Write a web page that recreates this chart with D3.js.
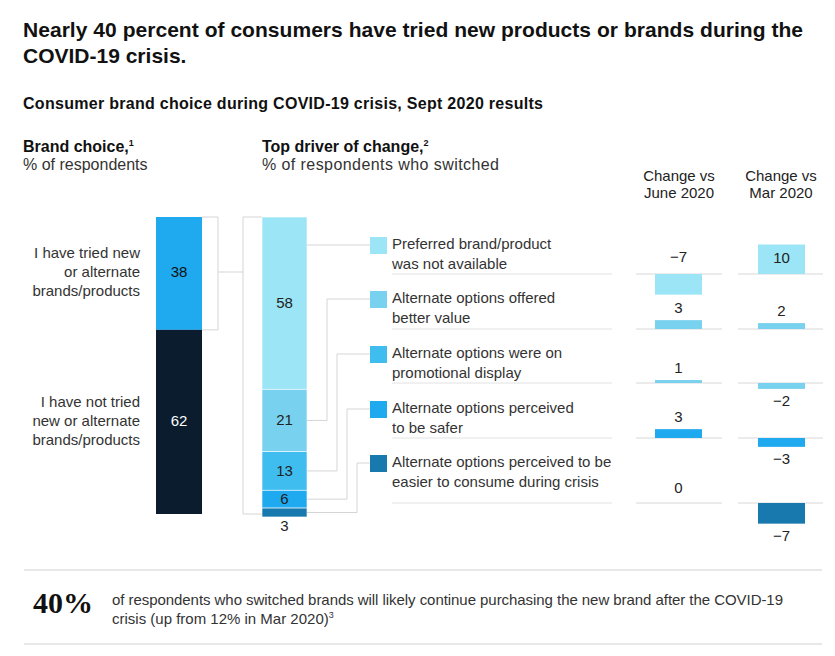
<!DOCTYPE html>
<html><head><meta charset="utf-8">
<script src="https://cdn.jsdelivr.net/npm/d3@7"></script>
<style>body{margin:0;background:#fff}svg{font-family:"Liberation Sans",Arial,sans-serif}</style>
</head><body><svg id="c" width="835" height="656"></svg>
<script>
const choiceLabels = [["I have tried new","or alternate","brands/products"],["I have not tried","new or alternate","brands/products"]];
const choiceValues = [38, 62];
const choiceColors = ["#1fa9ef", "#0a1c2d"];
const driverLabels = [["Preferred brand/product","was not available"],["Alternate options offered","better value"],["Alternate options were on","promotional display"],["Alternate options perceived","to be safer"],["Alternate options perceived to be","easier to consume during crisis"]];
const driverValues = [58, 21, 13, 6, 3];
const driverColors = ["#9ce5f6", "#78d1ee", "#40bdef", "#1fa9ef", "#1779ad"];
const changeJune = [-7, 3, 1, 3, 0];
const changeMar = [10, 2, -2, -3, -7];
const changeJuneColors = ["#9ce5f6", "#78d1ee", "#78d1ee", "#1fa9ef", "#1779ad"];
const changeMarColors = ["#9ce5f6", "#78d1ee", "#78d1ee", "#1fa9ef", "#1779ad"];

const svg = d3.select("#c");
const txt = (x,y,s,o={}) => svg.append("text").attr("x",x).attr("y",y).text(s)
  .attr("font-size",o.size||14).attr("fill",o.fill||"#222").attr("font-weight",o.weight||"normal")
  .attr("text-anchor",o.anchor||"start").attr("dominant-baseline",o.base||"auto");
const line = (x1,y1,x2,y2,c="#d5d5d5") => svg.append("line").attr("x1",x1).attr("y1",y1).attr("x2",x2).attr("y2",y2).attr("stroke",c).attr("stroke-width",1);

txt(23,37,"Nearly 40 percent of consumers have tried new products or brands during the",{size:21,weight:"bold",fill:"#111"}).attr("textLength",780);
txt(23,63,"COVID-19 crisis.",{size:21,weight:"bold",fill:"#111"});
txt(23,109,"Consumer brand choice during COVID-19 crisis, Sept 2020 results",{size:16,weight:"bold",fill:"#111"}).attr("textLength",520);
const h1 = txt(23,152,"Brand choice,",{size:16,weight:"bold",fill:"#111"});
h1.append("tspan").text("1").attr("font-size",9).attr("dy",-6);
txt(23,170,"% of respondents",{size:16,fill:"#333"});
const h2 = txt(262,152,"Top driver of change,",{size:16,weight:"bold",fill:"#111"});
h2.append("tspan").text("2").attr("font-size",9).attr("dy",-6);
txt(262,170,"% of respondents who switched",{size:16,fill:"#333"}).attr("textLength",237);
txt(679,181,"Change vs",{size:15,anchor:"middle"});
txt(679,198,"June 2020",{size:15,anchor:"middle"});
txt(781,181,"Change vs",{size:15,anchor:"middle"});
txt(781,198,"Mar 2020",{size:15,anchor:"middle"});

const y = d3.scaleLinear().domain([0,100]).range([217,514]);
let acc=0;
choiceValues.forEach((v,i)=>{
  const y0=y(acc), y1=y(acc+v); acc+=v;
  svg.append("rect").attr("x",156).attr("y",y0).attr("width",46).attr("height",y1-y0).attr("fill",choiceColors[i]);
  txt(179,(y0+y1)/2,v,{size:15,anchor:"middle",base:"middle",fill:i?"#fff":"#111"});
  const mid=(y0+y1)/2;
  choiceLabels[i].forEach((l,j)=>txt(140,mid+(j-1)*19,l,{size:15,anchor:"end",base:"middle",fill:"#333"}));
});
line(202,y(0),218,y(0)); line(218,y(0),218,y(38)); line(202,y(38),218,y(38));
line(218,272,243,272);
line(243,y(0),243,y(100)); line(243,y(0),262,y(0)); line(243,y(100),262,y(100));

const rowY=[245,299,354,409,463];
const baseY=[274,329,383,438,503];
const elbowX=[null,327,337,347,357];
acc=0;
driverValues.forEach((v,i)=>{
  const y0=y(acc), y1=y(acc+v); acc+=v;
  svg.append("rect").attr("x",262).attr("y",y0).attr("width",45).attr("height",y1-y0).attr("fill",driverColors[i]).attr("stroke","#fff").attr("stroke-width",0.6);
  if(v>=6) txt(284.5,(y0+y1)/2+1,v,{size:15,anchor:"middle",base:"middle",fill:"#222"});
  else txt(284.5,527,v,{size:15,anchor:"middle",base:"middle",fill:"#222"});
  const m=(y0+y1)/2;
  if(i===0) line(307,rowY[i],370,rowY[i]);
  else { line(307,m,elbowX[i],m); line(elbowX[i],m,elbowX[i],rowY[i]); line(elbowX[i],rowY[i],370,rowY[i]); }
  svg.append("rect").attr("x",370).attr("y",rowY[i]-8).attr("width",17).attr("height",17).attr("fill",driverColors[i]);
  driverLabels[i].forEach((l,j)=>txt(392,rowY[i]+j*20,l,{size:15,base:"middle",fill:"#333"}));
  line(392,baseY[i],612,baseY[i],"#e2e2e2");
});

const c = d3.scaleLinear().domain([0,1]).range([0,2.95]);
function col(vals,colors,x0,x1,bx,bw){
  vals.forEach((v,i)=>{
    const b=baseY[i];
    line(x0,b,x1,b,"#d8d8d8");
    const h=c(Math.abs(v));
    if(v!==0) svg.append("rect").attr("x",bx).attr("y",v>0?b-h:b).attr("width",bw).attr("height",Math.max(h,2)).attr("fill",colors[i]);
    const lab = v<0 ? "\u2212"+Math.abs(v) : String(v);
    let ly;
    if(i===0 && v>0) ly=b-h/2;
    else if(v>0) ly=b-h-11;
    else if(v===0) ly=b-14;
    else if(i===0) ly=b-16;
    else ly=b+h+13;
    txt(bx+bw/2,ly,lab,{size:15,anchor:"middle",base:"middle",fill:"#222"});
  });
}
col(changeJune,changeJuneColors,636,722,655,47);
col(changeMar,changeMarColors,738,823,758,47);

line(24,570,822,570,"#d0d0d0"); line(24,644,822,644,"#d0d0d0");
txt(33,613,"40%",{size:30,weight:"bold",fill:"#111"}).attr("font-family","'Liberation Serif',serif");
txt(112,605,"of respondents who switched brands will likely continue purchasing the new brand after the COVID-19",{size:15,fill:"#333"}).attr("textLength",671);
const f2=txt(112,624,"crisis (up from 12% in Mar 2020)",{size:15,fill:"#333"});
f2.append("tspan").text("3").attr("font-size",9).attr("dy",-6);
</script></body></html>
